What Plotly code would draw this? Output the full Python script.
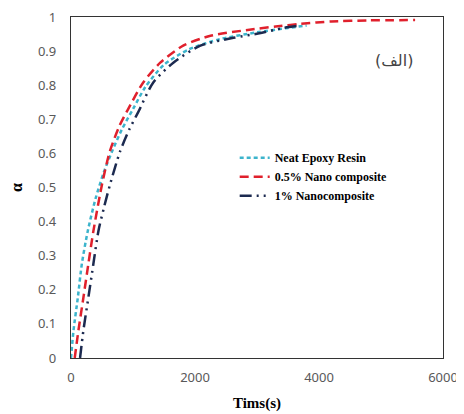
import plotly.graph_objects as go

# Neat Epoxy Resin
t_neat = [0, 40, 110, 175, 270, 400, 530, 660, 820, 1000, 1200, 1500, 1900, 2400, 3000, 3500, 3800]
a_neat = [0.0, 0.08, 0.177, 0.276, 0.372, 0.47, 0.545, 0.605, 0.67, 0.73, 0.795, 0.86, 0.905, 0.935, 0.955, 0.968, 0.975]

# 0.5% Nano composite
t_half = [60, 120, 200, 280, 361, 500, 625, 780, 922, 1165, 1440, 1810, 2250, 2850, 3300, 3700, 4200, 4800, 5550]
a_half = [0.0, 0.081, 0.177, 0.276, 0.372, 0.509, 0.605, 0.68, 0.73, 0.808, 0.866, 0.916, 0.945, 0.962, 0.972, 0.98, 0.987, 0.99, 0.991]

# 1% Nanocomposite
t_one = [146, 200, 280, 361, 442, 530, 630, 790, 940, 1084, 1327, 1650, 2087, 2620, 3060, 3430, 3700]
a_one = [0.0, 0.081, 0.177, 0.276, 0.372, 0.44, 0.509, 0.605, 0.67, 0.721, 0.808, 0.866, 0.916, 0.939, 0.953, 0.968, 0.975]

names = ["Neat Epoxy Resin", "0.5% Nano composite", "1% Nanocomposite"]
colors = ["#3cb4cc", "#e0202c", "#1c2a50"]
dashes = ["4px,3px", "9px,5px", "12px,5px,2px,5px,2px,5px"]

fig = go.Figure()
for t, a, n, c, d in zip([t_neat, t_half, t_one], [a_neat, a_half, a_one], names, colors, dashes):
    fig.add_trace(go.Scatter(x=t, y=a, mode="lines", name=n,
                             line=dict(color=c, width=2.5, dash=d, shape="spline", smoothing=0.7)))

# page body has an 8px default margin, so the figure is offset by (8, 8)
fig.update_layout(
    width=454, height=404,
    margin=dict(l=63, r=19, t=9, b=54),
    paper_bgcolor="white", plot_bgcolor="white",
    showlegend=True,
    legend=dict(x=0.44, y=0.63, xanchor="left", yanchor="top",
                font=dict(family="Liberation Serif", size=12, color="black", weight="bold"),
                bgcolor="rgba(0,0,0,0)", tracegroupgap=0),
    xaxis=dict(range=[0, 6000], dtick=2000, showgrid=False, zeroline=False, automargin=False,
               showline=True, linecolor="#333", linewidth=1.2, mirror=True,
               ticks="", ticklabelstandoff=7, ticklabeloverflow="allow",
               tickfont=dict(family="Noto Sans", size=13, color="#595959"),
               title=dict(text="<b>Tims(s)</b>", standoff=12,
                          font=dict(family="Liberation Serif", size=15, color="black"))),
    yaxis=dict(range=[0, 1], dtick=0.1, showgrid=False, zeroline=False, automargin=False,
               showline=True, linecolor="#333", linewidth=1.2, mirror=True,
               ticks="", ticklabelstandoff=11, ticklabeloverflow="allow",
               tickfont=dict(family="Noto Sans", size=13, color="#595959"),
               title=dict(text="<b>α</b>", standoff=12,
                          font=dict(family="Liberation Serif", size=16, color="black"))),
    annotations=[dict(text="(الف)", x=0.925, y=0.905, xref="paper", yref="paper",
                      xanchor="right", showarrow=False,
                      font=dict(family="DejaVu Sans", size=16, color="#444"))],
)

fig.write_html("out.html")
